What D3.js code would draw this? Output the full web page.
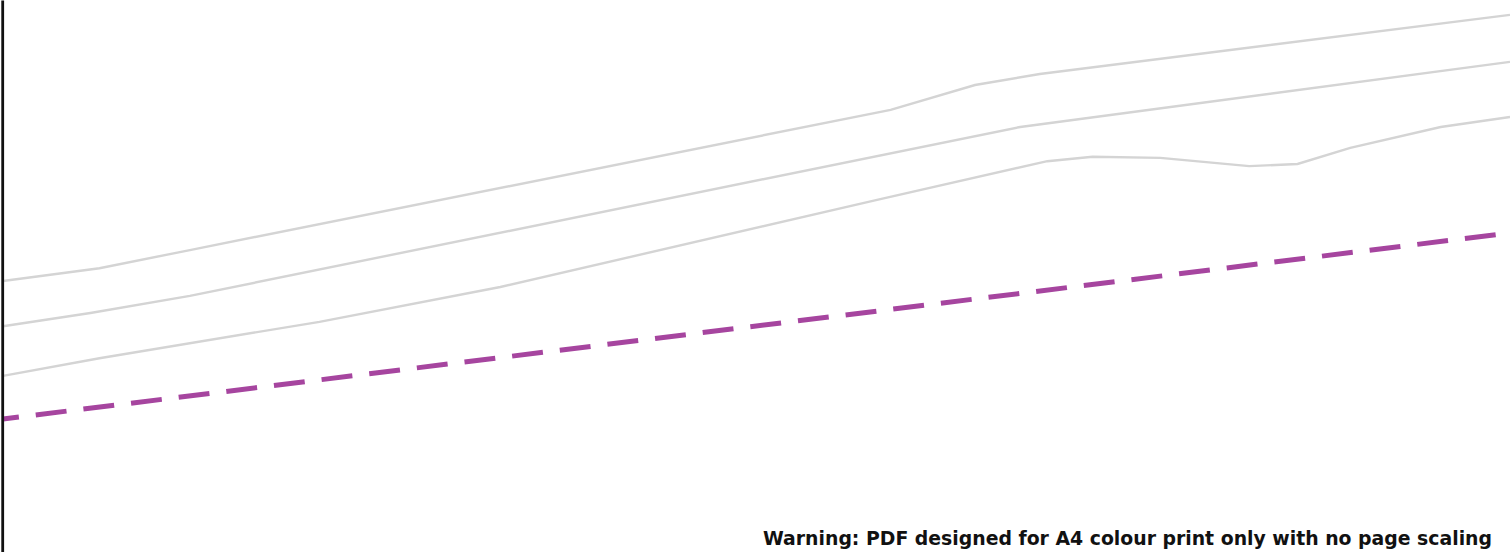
<!DOCTYPE html>
<html>
<head>
<meta charset="utf-8">
<script src="https://cdn.jsdelivr.net/npm/d3@7"></script>
<style>
  html, body { margin: 0; padding: 0; background: #fff; }
  svg { display: block; }
</style>
</head>
<body>
<div id="chart"></div>
<script>
// percentile bands (grey) and the target line (purple dashed)
var upperX = [0, 6.4, 12.4, 58.9, 64.5, 68.8, 100];
var upperY = [49.1, 51.4, 54.7, 80.1, 84.6, 86.6, 97.3];

var middleX = [0, 5.8, 12.4, 67.5, 100];
var middleY = [40.9, 43.3, 46.4, 77.0, 88.8];

var lowerX = [0, 6.4, 21.0, 33.0, 58.0, 69.3, 72.3, 76.8, 82.7, 85.9, 89.4, 95.4, 100];
var lowerY = [31.9, 35.1, 41.7, 48.0, 63.8, 70.8, 71.6, 71.4, 69.9, 70.3, 73.2, 77.0, 78.8];

var targetX = [0, 99.1];
var targetY = [24.1, 57.5];

var warningText = "Warning: PDF designed for A4 colour print only with no page scaling";

var width = 1510, height = 552;

var svg = d3.select("#chart").append("svg")
    .attr("width", width)
    .attr("height", height);

var x = d3.scaleLinear().domain([0, 100]).range([3, 1510]);
var y = d3.scaleLinear().domain([0, 100]).range([552, 0]);

var line = d3.line()
    .x(function(d) { return x(d[0]); })
    .y(function(d) { return y(d[1]); });

function zip(xs, ys) {
    return xs.map(function(v, i) { return [v, ys[i]]; });
}

var bands = [zip(upperX, upperY), zip(middleX, middleY), zip(lowerX, lowerY)];

svg.selectAll(".band")
    .data(bands)
    .join("path")
    .attr("class", "band")
    .attr("d", line)
    .attr("fill", "none")
    .attr("stroke", "#d4d4d4")
    .attr("stroke-width", 2.4);

svg.append("path")
    .datum(zip(targetX, targetY))
    .attr("d", line)
    .attr("fill", "none")
    .attr("stroke", "#a6459f")
    .attr("stroke-width", 5)
    .attr("stroke-dasharray", "31,17")
    .attr("stroke-dashoffset", 15);

// left axis, no ticks
var yAxis = d3.axisLeft(y).tickValues([]).tickSizeOuter(0);
svg.append("g")
    .attr("transform", "translate(2.2,0)")
    .call(yAxis)
    .select(".domain")
    .attr("stroke", "#111")
    .attr("stroke-width", 2.8);

svg.append("text")
    .attr("x", 1492)
    .attr("y", 545)
    .attr("text-anchor", "end")
    .attr("font-family", "'DejaVu Sans', sans-serif")
    .attr("font-weight", "bold")
    .attr("font-size", 20)
    .attr("textLength", 729)
    .attr("lengthAdjust", "spacingAndGlyphs")
    .attr("fill", "#111")
    .text(warningText);
</script>
</body>
</html>
